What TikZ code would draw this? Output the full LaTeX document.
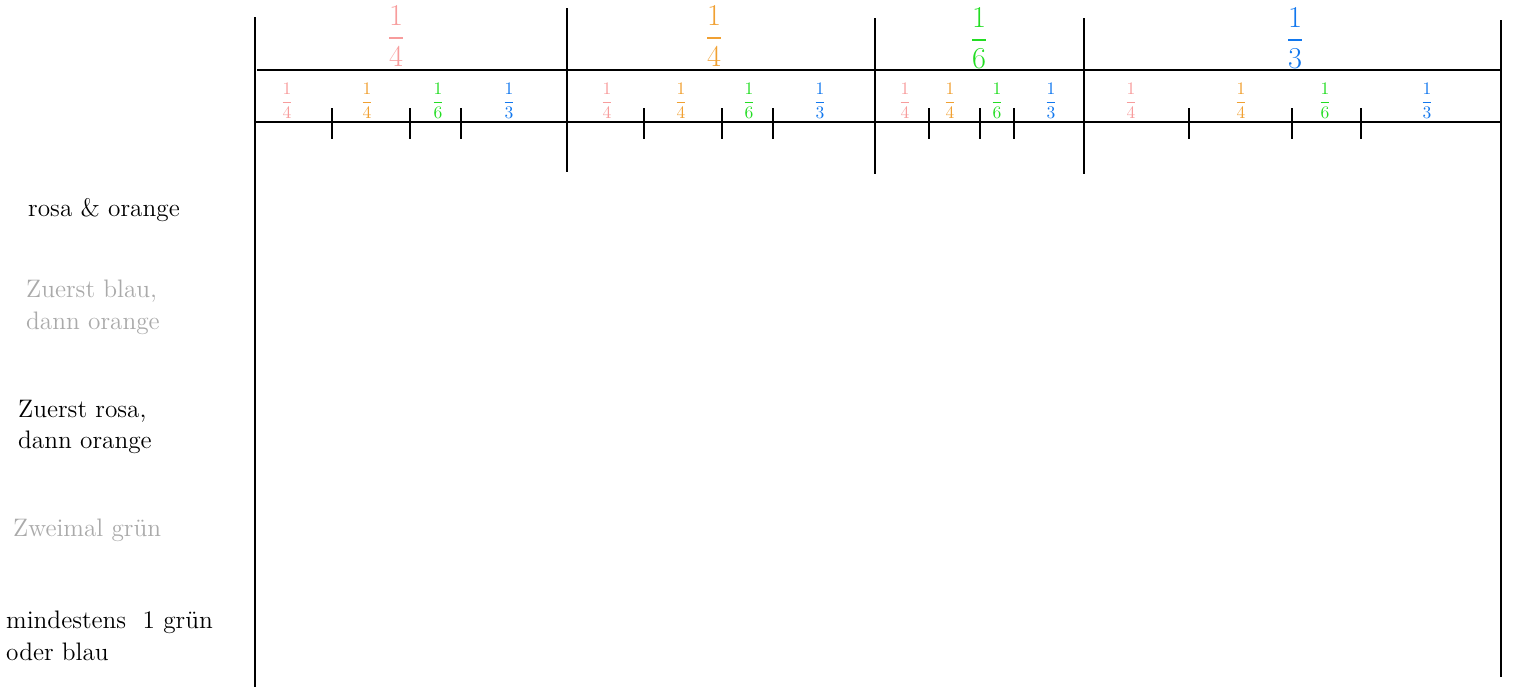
\documentclass[tikz,border=0pt]{standalone}
\usepackage{amsmath}
\usepackage{tikz}
\usetikzlibrary{positioning}

\definecolor{rosa}{HTML}{F79C9C}
\definecolor{orangeton}{HTML}{F0A032}
\definecolor{gruen}{HTML}{22DD22}
\definecolor{blau}{HTML}{1177EE}
\definecolor{grau}{HTML}{AAAAAA}

\begin{document}
\begin{tikzpicture}[
    x=0.02cm, y=-0.02cm,
    line/.style={draw=black, line width=1.1pt},
    bigfrac/.style={font=\LARGE},
    smallfrac/.style={font=\normalsize},
    rowlabel/.style={anchor=west, align=left, font=\Large}
]
    \useasboundingbox (0,0) rectangle (1523,687);

    % senkrechte Linien
    \foreach \x/\t/\b [count=\i] in {255/17/687, 567/8/172, 875/18/174, 1084/18/174, 1501/20/677} {
        \coordinate (v\i t) at (\x,\t);
        \coordinate (v\i b) at (\x,\b);
        \draw[line] (v\i t) -- (v\i b);
    }

    % waagrechte Linien
    \coordinate (h1l) at (257,70);
    \coordinate (h1r) at (1500,70);
    \coordinate (h2l) at (255,122);
    \coordinate (h2r) at (1501,122);
    \draw[line] (h1l) -- (h1r);
    \draw[line] (h2l) -- (h2r);

    % Teilstriche
    \foreach \x [count=\i] in {332,410,461,644,722,773,929,980,1014,1189,1292,1361} {
        \coordinate (s\i t) at (\x,108);
        \coordinate (s\i b) at (\x,139);
        \draw[line] (s\i t) -- (s\i b);
    }

    % erste Stufe
    \node[bigfrac, text=rosa] (p1) at (396,36) {$\dfrac{1}{4}$};
    \node[bigfrac, text=orangeton] (p2) at (714,36) {$\dfrac{1}{4}$};
    \node[bigfrac, text=gruen] (p3) at (979,38) {$\dfrac{1}{6}$};
    \node[bigfrac, text=blau] (p4) at (1295,38) {$\dfrac{1}{3}$};

    % zweite Stufe
    \foreach \x/\c/\n [count=\i] in {
        287/rosa/4, 367/orangeton/4, 438/gruen/6, 509/blau/3,
        607/rosa/4, 681/orangeton/4, 749/gruen/6, 820/blau/3,
        905/rosa/4, 950/orangeton/4, 997/gruen/6, 1051/blau/3,
        1131/rosa/4, 1241/orangeton/4, 1325/gruen/6, 1427/blau/3} {
        \node[smallfrac, text=\c] (q\i) at (\x,101) {$\dfrac{1}{\n}$};
    }

    % Ereignisse
    \node[rowlabel] (e1) at (22,210) {rosa \& orange};
    \node[rowlabel, text=grau] (e2) at (20,307) {Zuerst blau,\\dann orange};
    \node[rowlabel] (e3) at (12,427) {Zuerst rosa,\\dann orange};
    \node[rowlabel, text=grau] (e4) at (7,530) {Zweimal grün};
    \node[rowlabel] (e5) at (0,636) {mindestens \ 1 grün\\oder blau};
\end{tikzpicture}
\end{document}
